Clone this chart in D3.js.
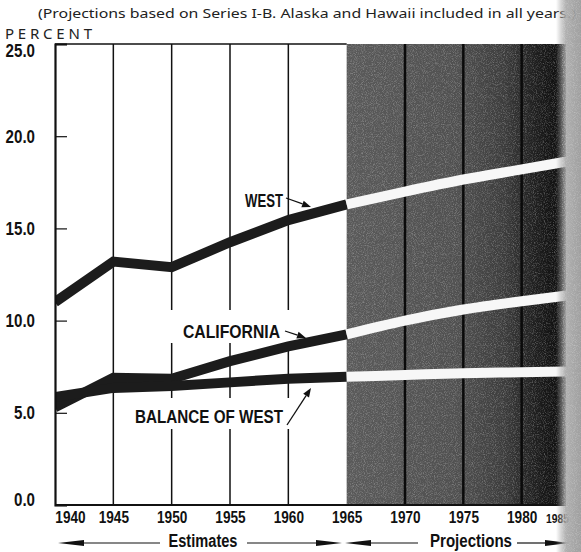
<!DOCTYPE html>
<html><head><meta charset="utf-8">
<script src="https://cdn.jsdelivr.net/npm/d3@7"></script>
<style>
html,body{margin:0;padding:0;background:#fff;}
svg{display:block;}
</style></head>
<body>
<script>
// ---- data ----
const estYears = [1940, 1945, 1950, 1955, 1960, 1965];
const projYears = [1965, 1970, 1975, 1980, 1985];
const westEst = [11.0, 13.2, 12.9, 14.25, 15.45, 16.3];
const westProj = [16.3, 17.0, 17.65, 18.2, 18.75];
const califEst = [5.3, 6.9, 6.85, 7.8, 8.6, 9.25];
const califProj = [9.25, 10.0, 10.6, 11.05, 11.45];
const balEst = [5.85, 6.35, 6.45, 6.65, 6.85, 6.95];
const balProj = [6.95, 7.05, 7.15, 7.2, 7.25];
const yTicks = [0, 5, 10, 15, 20, 25];
const xTicks = [1940, 1945, 1950, 1955, 1960, 1965, 1970, 1975, 1980, 1985];
const title = "(Projections based on Series I-B.  Alaska and Hawaii included in all years.)";

const W = 581, H = 552;
const bold = "'Liberation Sans',Arial,sans-serif";
const svg = d3.select("body").append("svg").attr("width", W).attr("height", H);
const defs = svg.append("defs");

// condense text horizontally (mimics a narrow bold face)
function narrowify(sel, k) {
  sel.each(function () {
    const n = this.getComputedTextLength();
    d3.select(this).attr("textLength", n * k).attr("lengthAdjust", "spacingAndGlyphs");
  });
  return sel;
}

const x = d3.scaleLinear().domain([1940, 1985]).range([55, 580]);
const y = d3.scaleLinear().domain([0, 25]).range([505, 44]);
const plotL = x(1940), plotT = y(25), plotB = y(0), plotR = 566, splitX = x(1965);

const g1 = defs.append("linearGradient").attr("id", "projbg").attr("x1", 0).attr("x2", 1).attr("y1", 0).attr("y2", 0);
[[0, "#5a5a5a"], [0.5, "#505050"], [0.72, "#3c3c3c"], [0.82, "#262626"], [0.92, "#151515"], [1, "#101010"]]
  .forEach(([o, c]) => g1.append("stop").attr("offset", o).attr("stop-color", c));
const g2 = defs.append("linearGradient").attr("id", "edge").attr("x1", 0).attr("x2", 1).attr("y1", 0).attr("y2", 0);
[[0, "#a0a0a0", 0], [0.4, "#a8a8a8", 0.92], [1, "#9a9a9a", 0.95]]
  .forEach(([o, c, a]) => g2.append("stop").attr("offset", o).attr("stop-color", c).attr("stop-opacity", a));
const f = defs.append("filter").attr("id", "noise").attr("x", 0).attr("y", 0).attr("width", "100%").attr("height", "100%");
f.append("feTurbulence").attr("type", "fractalNoise").attr("baseFrequency", 1.1).attr("numOctaves", 1).attr("seed", 4);
f.append("feColorMatrix").attr("type", "matrix")
  .attr("values", "0 0 0 0 1  0 0 0 0 1  0 0 0 0 1  2.2 0 0 0 -1");
defs.append("clipPath").attr("id", "plotclip").append("rect")
  .attr("x", plotL).attr("y", plotT - 2).attr("width", plotR - plotL).attr("height", plotB - plotT + 4);

// projection background
svg.append("rect").attr("x", splitX).attr("y", plotT).attr("width", plotR - splitX).attr("height", plotB - plotT)
  .attr("fill", "url(#projbg)");
svg.append("rect").attr("x", splitX).attr("y", plotT).attr("width", plotR - splitX).attr("height", plotB - plotT)
  .attr("filter", "url(#noise)").attr("opacity", 0.35);

// grid lines
svg.append("g").selectAll("line").data([1945, 1950, 1955, 1960]).join("line")
  .attr("x1", d => x(d)).attr("x2", d => x(d)).attr("y1", plotT).attr("y2", plotB)
  .attr("stroke", "#111").attr("stroke-width", 1.5);
svg.append("g").selectAll("line").data([1970, 1975, 1980]).join("line")
  .attr("x1", d => x(d)).attr("x2", d => x(d)).attr("y1", plotT).attr("y2", plotB)
  .attr("stroke", "#0a0a0a").attr("stroke-width", 2.5);

// white label backgrounds breaking the grid lines
svg.append("rect").attr("x", 165).attr("y", 310).attr("width", 135).attr("height", 33).attr("fill", "#fff");
svg.append("rect").attr("x", 125).attr("y", 398).attr("width", 175).attr("height", 31).attr("fill", "#fff");

// lines
const line = d3.line().x(d => x(d[0])).y(d => y(d[1]));
const curve = d3.line().x(d => x(d[0])).y(d => y(d[1])).curve(d3.curveMonotoneX);
const lines = svg.append("g").attr("clip-path", "url(#plotclip)");
[westEst, califEst, balEst].forEach(v => {
  lines.append("path").attr("d", line(estYears.map((yr, i) => [yr, v[i]])))
    .attr("fill", "none").attr("stroke", "#1c1c1c").attr("stroke-width", 10).attr("stroke-linejoin", "miter");
});
[westProj, califProj, balProj].forEach(v => {
  lines.append("path").attr("d", curve(projYears.map((yr, i) => [yr, v[i]])))
    .attr("fill", "none").attr("stroke", "#f7f7f7").attr("stroke-width", 10);
});

// frame
svg.append("line").attr("x1", plotL).attr("x2", splitX).attr("y1", plotT).attr("y2", plotT).attr("stroke", "#111").attr("stroke-width", 1.5);
svg.append("line").attr("x1", plotL).attr("x2", plotR).attr("y1", plotB).attr("y2", plotB).attr("stroke", "#111").attr("stroke-width", 2);

// y axis
const yAxis = svg.append("g").attr("transform", `translate(${plotL},0)`)
  .call(d3.axisLeft(y).tickValues(yTicks).tickSize(-12).tickPadding(20).tickFormat(d3.format(".1f")));
yAxis.select(".domain").attr("stroke", "#111").attr("stroke-width", 2.2);
yAxis.selectAll(".tick line").attr("stroke", "#111").attr("stroke-width", 1.2);
narrowify(yAxis.selectAll(".tick text").attr("font-family", bold).attr("font-weight", "bold")
  .attr("font-size", 18).attr("fill", "#111")
  .attr("dy", d => d === 0 ? "0.05em" : d === 25 ? "0.72em" : "0.33em"), 0.84);

// x axis
const xAxis = svg.append("g").attr("transform", `translate(0,${plotB})`)
  .call(d3.axisBottom(x).tickValues(xTicks).tickSize(0).tickPadding(6).tickFormat(d3.format("d")));
xAxis.select(".domain").remove();
narrowify(xAxis.selectAll(".tick text").attr("font-family", bold).attr("font-weight", "bold")
  .attr("font-size", d => d === 1985 ? 13 : 17).attr("fill", "#111")
  .attr("dx", d => d === 1940 ? 15 : d === 1985 ? -23 : 0)
  .attr("dy", d => d === 1985 ? "0.9em" : "0.71em"), 0.8);

// title & unit
svg.append("text").attr("x", 38).attr("y", 18).text(title)
  .attr("font-family", "'Noto Sans',sans-serif").attr("font-size", 13).attr("fill", "#222")
  .attr("textLength", 538).attr("lengthAdjust", "spacingAndGlyphs");
svg.append("text").attr("x", 5).attr("y", 39).text("PERCENT")
  .attr("font-family", "'Noto Sans',sans-serif").attr("font-size", 15).attr("fill", "#222")
  .attr("textLength", 87).attr("lengthAdjust", "spacing");

// series labels
const lab = (t, x0, y0, w) => svg.append("text").attr("x", x0).attr("y", y0).text(t)
  .attr("font-family", bold).attr("font-weight", "bold").attr("font-size", 18).attr("fill", "#111")
  .attr("textLength", w).attr("lengthAdjust", "spacingAndGlyphs");
lab("WEST", 245, 207, 38);
lab("CALIFORNIA", 183, 338, 97);
lab("BALANCE OF WEST", 135, 423, 148);

function arrow(x1, y1, x2, y2, len, half, w) {
  const a = Math.atan2(y2 - y1, x2 - x1);
  const bx = x2 - len * Math.cos(a), by = y2 - len * Math.sin(a);
  svg.append("line").attr("x1", x1).attr("y1", y1).attr("x2", bx).attr("y2", by)
    .attr("stroke", "#111").attr("stroke-width", w);
  const px = -Math.sin(a) * half, py = Math.cos(a) * half;
  svg.append("path").attr("d", `M${x2},${y2}L${bx + px},${by + py}L${bx - px},${by - py}Z`).attr("fill", "#111");
}
arrow(286, 198, 311, 207, 9, 3.5, 1.3);
arrow(285, 331, 306, 338, 9, 3.5, 1.3);
arrow(287, 425, 311, 388, 9, 3.5, 1.3);

// bottom legend
const leg = (t, cx, w) => svg.append("text").attr("x", cx).attr("y", 547).attr("text-anchor", "middle").text(t)
  .attr("font-family", bold).attr("font-weight", "bold").attr("font-size", 18).attr("fill", "#111")
  .attr("textLength", w).attr("lengthAdjust", "spacingAndGlyphs");
leg("Estimates", 203, 69);
leg("Projections", 471, 82);
arrow(160, 543, 58, 543, 26, 3, 1.2);
arrow(247, 543, 342, 543, 26, 3, 1.2);
arrow(418, 543, 345, 543, 26, 3, 1.2);
arrow(517, 543, 569, 543, 24, 3, 1.2);

// scanned right edge
svg.append("rect").attr("x", 556).attr("y", 0).attr("width", 25).attr("height", H).attr("fill", "url(#edge)");
svg.append("rect").attr("x", 562).attr("y", 0).attr("width", 19).attr("height", H)
  .attr("filter", "url(#noise)").attr("opacity", 0.3);
</script>
</body></html>
